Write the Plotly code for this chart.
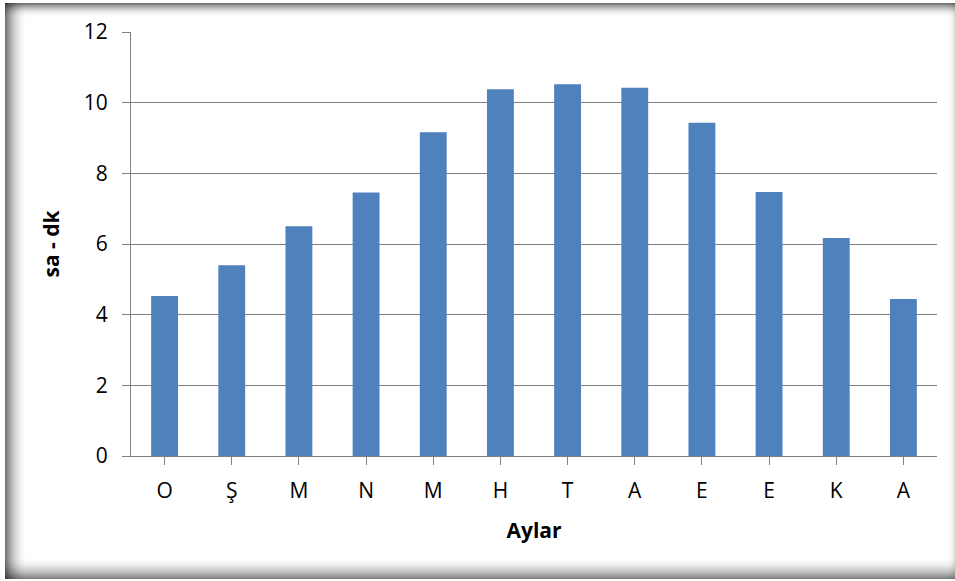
import plotly.graph_objects as go

months = ["O", "Ş", "M", "N", "M", "H", "T", "A", "E", "E", "K", "A"]
values = [4.53, 5.40, 6.50, 7.46, 9.16, 10.38, 10.52, 10.42, 9.43, 7.47, 6.17, 4.44]
x_title = "Aylar"
y_title = "sa - dk"

W, H = 955, 581
L, R, T, B = 131, 937, 32, 456

x_idx = list(range(len(months)))

fig = go.Figure(go.Bar(
    x=x_idx, y=values,
    marker=dict(color="#4F81BD", line=dict(width=0)),
    width=0.4,
))

def px2x(p):
    return (p - L) / (R - L)

def py2y(p):
    return (B - p) / (B - T)

shapes = []
def strip(x0, y0, x1, y1, alpha):
    shapes.append(dict(type="rect", xref="paper", yref="paper",
                       x0=px2x(x0), x1=px2x(x1), y0=py2y(y1), y1=py2y(y0),
                       fillcolor=f"rgba(0,0,0,{alpha:.3f})", line=dict(width=0),
                       layer="below"))

# outer frame shadow (inner bevel look)
ox0, oy0, ox1, oy1 = 5, 3, 955, 579
N = 22
for i in range(N):
    a = 0.55 * (1 - i / N) ** 2
    strip(ox0 + i, oy0, ox0 + i + 1, oy1, a)           # left
N = 14
for i in range(N):
    a = 0.55 * (1 - i / N) ** 2
    strip(ox0, oy0 + i, ox1, oy0 + i + 1, a)           # top
N = 22
for i in range(N):
    a = 0.5 * (1 - i / N) ** 2
    strip(ox0, oy1 - i - 1, ox1, oy1 - i, a)           # bottom
N = 8
for i in range(N):
    a = 0.12 * (1 - i / N) ** 2
    strip(ox1 - i - 1, oy0, ox1 - i, oy1, a)           # right

font = "'Open Sans', Lato, sans-serif"

fig.update_layout(
    width=W, height=H,
    margin=dict(l=L, r=W - R, t=T, b=H - B, pad=0),
    paper_bgcolor="white", plot_bgcolor="white",
    showlegend=False,
    shapes=shapes,
    font=dict(family=font, size=21, color="black"),
    xaxis=dict(
        tickmode="array", tickvals=x_idx, ticktext=months,
        range=[-0.5, len(months) - 0.5],
        showgrid=False, showline=True, linecolor="#808080", linewidth=1,
        ticks="outside", ticklen=8, tickcolor="#808080", tickwidth=1,
        tickson="boundaries", ticklabelstandoff=8,
        tickfont=dict(size=21, family=font),
        title=dict(text="<b>" + x_title + "</b>", font=dict(size=21, family=font), standoff=20),
        zeroline=False,
    ),
    yaxis=dict(
        range=[0, 12], tickvals=[0, 2, 4, 6, 8, 10, 12],
        showgrid=True, gridcolor="#808080", gridwidth=1.2,
        showline=True, linecolor="#808080", linewidth=1,
        ticks="outside", ticklen=8, tickcolor="#808080", tickwidth=1,
        ticklabelstandoff=10,
        tickfont=dict(size=21, family=font),
        title=dict(text="<b>" + y_title + "</b>", font=dict(size=21, family=font), standoff=18),
        zeroline=False,
    ),
)

fig.write_html("out.html", config={"displayModeBar": False},
               post_script="document.body.style.margin='0';document.body.style.overflow='hidden';")
